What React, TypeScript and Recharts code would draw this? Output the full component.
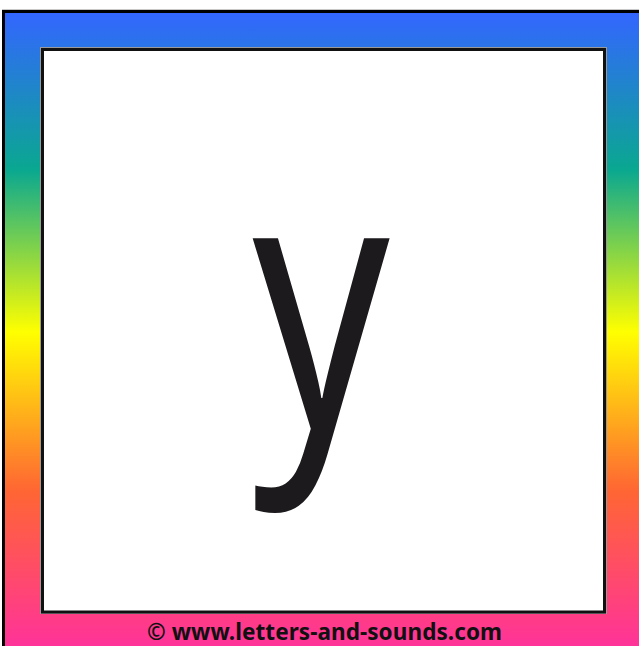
import { BarChart, Bar, XAxis, YAxis } from 'recharts';

// the card itself: one category, one full-height frame
const cards = ['y'];
const frameValues = [1];
const letter = 'y';
const footer = '© www.letters-and-sounds.com';

const rainbow = [
  { offset: 0, color: '#3366ff' },
  { offset: 0.248, color: '#0aa890' },
  { offset: 0.504, color: '#ffff00' },
  { offset: 0.754, color: '#ff6633' },
  { offset: 1, color: '#ff3399' },
];

const data = cards.map((card, i) => ({ card, frame: frameValues[i] }));

// frame bar + white panel with the letter, drawn together so the panel sits on top
const CardShape = (props: any) => {
  const { x, y, width, height } = props;
  return (
    <g>
      <rect x={x} y={y} width={width} height={height} fill="url(#rainbow)" stroke="#000" strokeWidth={3} />
      <line x1={2} y1={9.5} x2={660} y2={9.5} stroke="#c8c8c8" strokeWidth={1} />
      <rect x={40.5} y={47.5} width={566} height={566} fill="none" stroke="#9a9a9a" strokeWidth={1} />
      <rect x={42.5} y={49.5} width={562} height={562.5} fill="#fff" stroke="#111" strokeWidth={3} />
      <text
        transform="translate(321 428) scale(0.76 1)"
        textAnchor="middle"
        fontFamily="'Noto Sans', sans-serif"
        fontSize={354}
        fill="#1c1a1c"
      >
        {letter}
      </text>
      <text
        x={147}
        y={640}
        textLength={355}
        lengthAdjust="spacing"
        fontFamily="'Noto Sans', sans-serif"
        fontWeight="bold"
        fontSize={22.5}
        fill="#111"
      >
        {footer}
      </text>
    </g>
  );
};

const App = () => {
  return (
    <div
      style={{
        position: 'fixed',
        left: 0,
        top: 0,
        width: 639,
        height: 646,
        overflow: 'hidden',
        background: '#fff',
      }}
    >
      <BarChart
        width={660}
        height={670}
        data={data}
        margin={{ top: 11.5, left: 3.5, right: 0, bottom: 0 }}
        barCategoryGap={0}
      >
        <defs>
          <linearGradient id="rainbow" gradientUnits="userSpaceOnUse" x1="0" y1="13" x2="0" y2="646">
            {rainbow.map((s) => (
              <stop key={s.offset} offset={s.offset} stopColor={s.color} />
            ))}
          </linearGradient>
        </defs>
        <XAxis dataKey="card" hide />
        <YAxis hide domain={[0, 1]} />
        <Bar dataKey="frame" shape={CardShape} isAnimationActive={false} />
      </BarChart>
    </div>
  );
};

export default App;
